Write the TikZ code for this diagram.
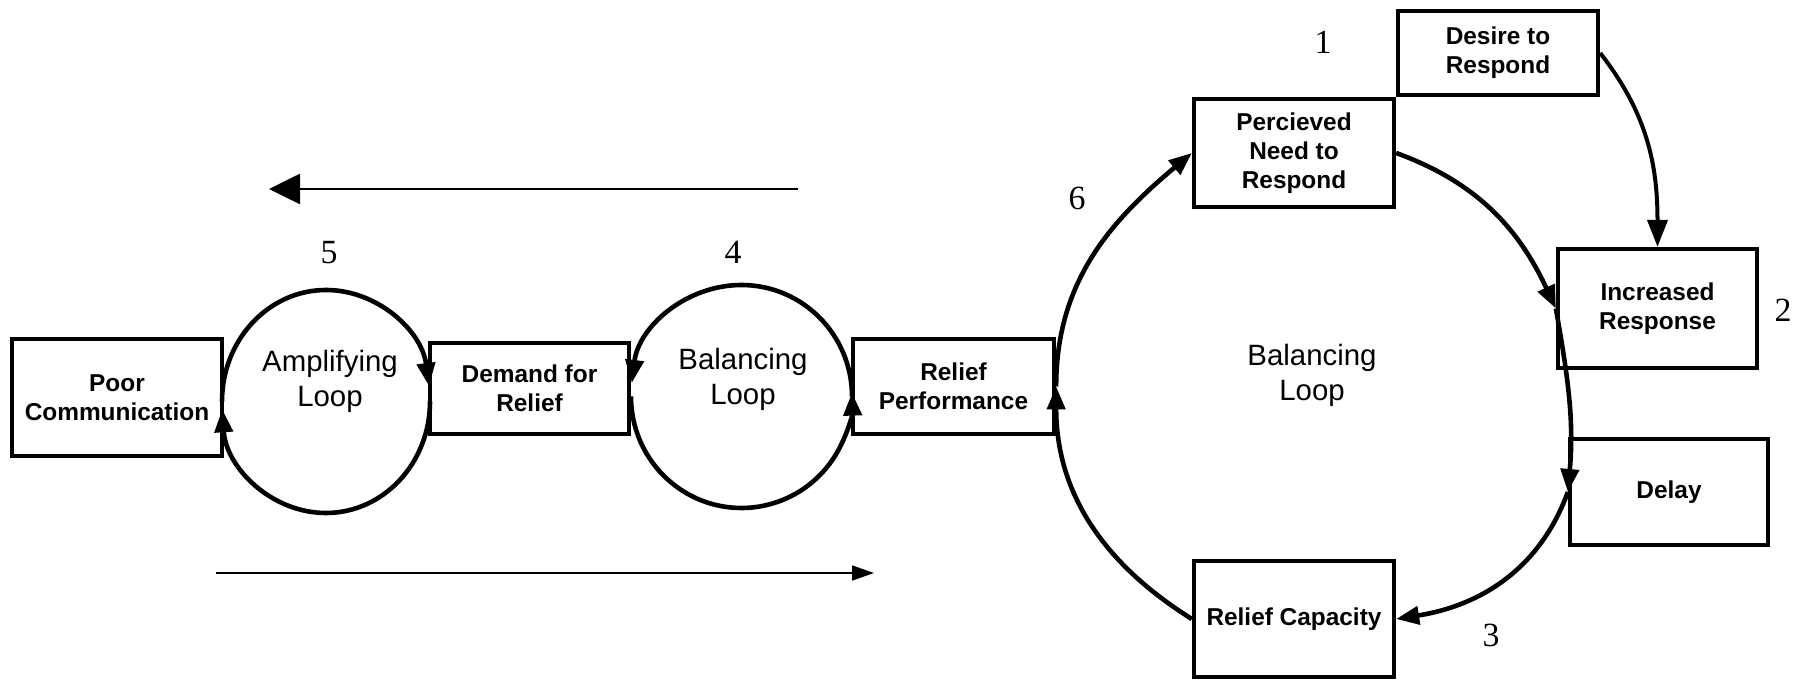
\documentclass[tikz,border=0pt]{standalone}
\usepackage{fontspec}
\setmainfont{Liberation Sans}
\newfontfamily\numfont{Liberation Serif}
\usetikzlibrary{arrows.meta,calc}
\begin{document}
\begin{tikzpicture}[x=1bp,y=1bp,
  box/.style={draw, line width=4.3bp, rectangle, align=center, inner sep=0pt,
    font=\fontsize{24.5}{29}\selectfont\bfseries},
  looptext/.style={align=center, font=\fontsize{29.5}{35}\selectfont},
  num/.style={font=\fontsize{34}{34}\selectfont\numfont},
  ring/.style={line width=4.6bp},
  tip/.style={-{Triangle[length=23bp,width=18bp]}},
]
\useasboundingbox (0,0) rectangle (1809,680);

% boxes
\node[box, minimum width=210bp, minimum height=117bp] (poor) at (117,282.5) {Poor\\Communication};
\node[box, minimum width=199bp, minimum height=91bp] (demand) at (529.5,291.5) {Demand for\\Relief};
\node[box, minimum width=201bp, minimum height=95bp] (perf) at (953.5,293.5) {Relief\\Performance};
\node[box, minimum width=200bp, minimum height=108bp] (perceived) at (1294,527) {Percieved\\Need to\\Respond};
\node[box, minimum width=200bp, minimum height=84bp] (desire) at (1498,627) {Desire to\\Respond};
\node[box, minimum width=199bp, minimum height=119bp] (increased) at (1657.5,371.5) {Increased\\Response};
\node[box, minimum width=198bp, minimum height=106bp] (delay) at (1669,188) {Delay};
\node[box, minimum width=200bp, minimum height=116bp] (capacity) at (1294,61) {Relief Capacity};

% loop labels
\node[looptext] (amp) at (330,299) {Amplifying\\Loop};
\node[looptext] (bal) at (743,301) {Balancing\\Loop};
\node[looptext] (bigbal) at (1312,305) {Balancing\\Loop};

% numbers
\node[num] (n1) at (1323,638) {1};
\node[num] (n2) at (1783,370) {2};
\node[num] (n3) at (1491,45) {3};
\node[num] (n4) at (733,428) {4};
\node[num] (n5) at (329,427) {5};
\node[num] (n6) at (1077,482) {6};

% small loops
\coordinate (c5) at (326,278.5);
\draw[ring, tip] ($(c5)+(180:104 and 111.5)$) arc[start angle=180, end angle=8, x radius=104, y radius=111.5];
\draw[ring, tip] ($(c5)+(0:104 and 111.5)$) arc[start angle=0, end angle=-176, x radius=104, y radius=111.5];
\coordinate (c4) at (741.5,283.5);
\draw[ring, tip] ($(c4)+(0:110.5 and 111.5)$) arc[start angle=0, end angle=173, x radius=110.5, y radius=111.5];
\draw[ring, tip] ($(c4)+(180:110.5 and 111.5)$) arc[start angle=180, end angle=362, x radius=110.5, y radius=111.5];

% big loop
\draw[ring, tip] (perf.east) to[out=90, in=220] (perceived.west);
\draw[ring, tip] (perceived.east) to[out=-20, in=115] (increased.west);
\draw[ring, tip] (increased.west) to[out=-80, in=85] (delay.west);
\draw[ring, tip] (delay.west) to[out=-110, in=9] (capacity.east);
\draw[ring, tip] (capacity.west) to[out=148, in=-90] (perf.east);
\draw[line width=4bp, -{Triangle[length=27bp,width=20bp]}] (desire.east) to[out=-52, in=90] (increased.north);

% direction arrows
\coordinate (ta) at (798,491);
\coordinate (tb) at (269,491);
\draw[line width=2.7bp, -{Triangle[length=31bp,width=30bp]}] (ta) -- (tb);
\coordinate (ba) at (216,107);
\coordinate (bb) at (874,107);
\draw[line width=1.7bp, -{Triangle[length=22bp,width=15bp]}] (ba) -- (bb);
\end{tikzpicture}
\end{document}
